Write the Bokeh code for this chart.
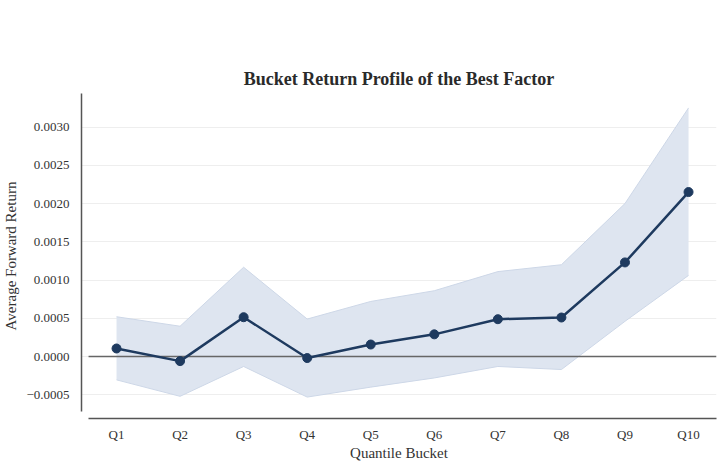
from bokeh.plotting import figure
from bokeh.models import Range1d, FixedTicker, ColumnDataSource
from bokeh.embed import file_html
from bokeh.resources import INLINE

# Quantile buckets and their average forward returns with confidence band
buckets = ["Q1", "Q2", "Q3", "Q4", "Q5", "Q6", "Q7", "Q8", "Q9", "Q10"]
mean_return = [0.000105, -0.00006, 0.000514, -0.00002, 0.000157, 0.00029,
               0.000488, 0.00051, 0.00123, 0.00215]
band_upper = [0.00052, 0.000396, 0.001167, 0.00049, 0.00072, 0.00086,
              0.00111, 0.0012, 0.002, 0.00325]
band_lower = [-0.000305, -0.00052, -0.00013, -0.00053, -0.0004, -0.00028,
              -0.00013, -0.00017, 0.00046, 0.00106]
y_ticks = [-0.0005, 0.0, 0.0005, 0.001, 0.0015, 0.002, 0.0025, 0.003]
y_tick_labels = ["\u22120.0005", "0.0000", "0.0005", "0.0010", "0.0015",
                 "0.0020", "0.0025", "0.0030"]

xs = list(range(len(buckets)))
src = ColumnDataSource(dict(x=xs, y=mean_return, lo=band_lower, hi=band_upper))

FONT = "Liberation Serif"
TEXT = "#333333"
NAVY = "#1e3a5f"

p = figure(width=723, height=468, output_backend="svg", toolbar_location=None,
           x_range=Range1d(-0.551, 9.44), y_range=Range1d(-0.00081, 0.003438),
           min_border_left=81, min_border_right=7, min_border_top=93,
           min_border_bottom=50)
p.outline_line_color = None
p.background_fill_color = "white"
p.border_fill_color = "white"

p.title.text = "Bucket Return Profile of the Best Factor"
p.title.align = "center"
p.title.text_font = FONT
p.title.text_font_size = "18px"
p.title.text_font_style = "bold"
p.title.text_color = "#2a2a2a"
p.title.standoff = 9

# Offset spines: axis lines limited to the data area
p.xaxis.bounds = (-0.44, 9.44)
p.yaxis.bounds = (-0.000719, 0.003438)
p.xaxis.ticker = FixedTicker(ticks=xs)
p.xaxis.major_label_overrides = {i: b for i, b in enumerate(buckets)}
p.yaxis.ticker = FixedTicker(ticks=y_ticks)
p.yaxis.major_label_overrides = {t: l for t, l in zip(y_ticks, y_tick_labels)}

for ax in (p.xaxis, p.yaxis):
    ax.axis_line_color = "#555555"
    ax.axis_line_width = 1.5
    ax.major_tick_line_color = None
    ax.minor_tick_line_color = None
    ax.major_tick_out = 0
    ax.major_tick_in = 0
    ax.minor_tick_out = 0
    ax.minor_tick_in = 0
    ax.major_label_text_font = FONT
    ax.major_label_text_font_size = "13px"
    ax.major_label_text_color = TEXT
    ax.axis_label_text_font = FONT
    ax.axis_label_text_font_size = "15px"
    ax.axis_label_text_font_style = "normal"
    ax.axis_label_text_color = TEXT
p.xaxis.axis_label = "Quantile Bucket"
p.yaxis.axis_label = "Average Forward Return"
p.xaxis.major_label_standoff = 8
p.yaxis.major_label_standoff = 12
p.xaxis.axis_label_standoff = 0
p.yaxis.axis_label_standoff = 4

p.xgrid.grid_line_color = None
p.ygrid.grid_line_color = "#eeeeee"
p.ygrid.grid_line_width = 1
p.ygrid.bounds = (-0.44, 9.44)

# Confidence band
p.varea(x="x", y1="lo", y2="hi", source=src, fill_color="#dee5f0", fill_alpha=1.0)
p.line(x="x", y="hi", source=src, line_color="#cdd7e7", line_width=1)
p.line(x="x", y="lo", source=src, line_color="#cdd7e7", line_width=1)

# Zero reference line
p.line(x=[-0.44, 9.44], y=[0, 0], line_color="#666666", line_width=1.5)

# Mean return profile
p.line(x="x", y="y", source=src, line_color=NAVY, line_width=2.5)
p.scatter(x="x", y="y", source=src, size=9, fill_color=NAVY, line_color=NAVY)

open("out.html", "w").write(file_html(p, INLINE))
